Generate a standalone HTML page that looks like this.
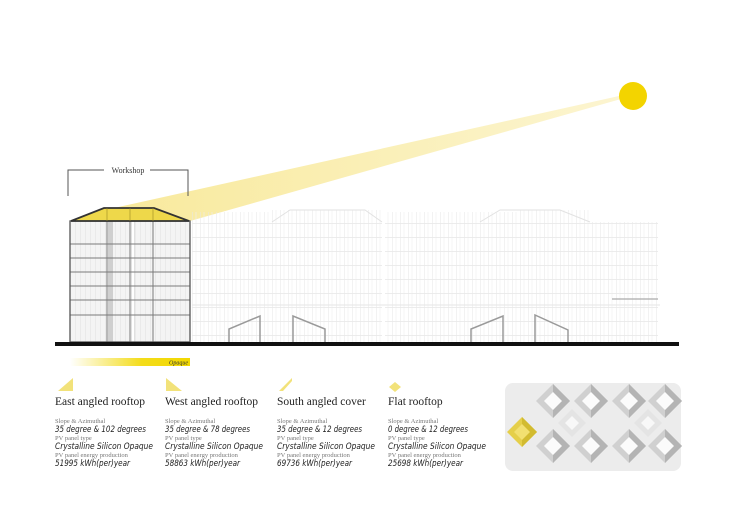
<!DOCTYPE html>
<html><head><meta charset="utf-8"><style>
html,body{margin:0;padding:0;background:#fff;}
svg{display:block;}
text{font-family:"Liberation Serif",serif;}
.t{font-size:11.5px;fill:#222;}
.s{font-size:6.5px;fill:#777;}
.b{font-size:9px;font-style:italic;fill:#222;font-family:"DejaVu Sans","Liberation Sans",sans-serif;}
</style></head><body>
<svg width="730" height="516" viewBox="0 0 730 516" xmlns="http://www.w3.org/2000/svg">
<defs>
<linearGradient id="beam" x1="0" y1="0" x2="1" y2="0">
<stop offset="0" stop-color="#f6e27a" stop-opacity="0.75"/>
<stop offset="1" stop-color="#f6e27a" stop-opacity="0.35"/>
</linearGradient>
<linearGradient id="op" x1="0" y1="0" x2="1" y2="0">
<stop offset="0" stop-color="#f2d800" stop-opacity="0"/>
<stop offset="0.6" stop-color="#f2d800" stop-opacity="0.9"/>
<stop offset="1" stop-color="#f2d800"/>
</linearGradient>
<pattern id="fac" width="8" height="14" patternUnits="userSpaceOnUse">
<line x1="0" y1="0" x2="0" y2="14" stroke="#e6e6e6" stroke-width="1"/>
<line x1="4" y1="0" x2="4" y2="14" stroke="#efefef" stroke-width="0.6"/>
<line x1="0" y1="13.5" x2="8" y2="13.5" stroke="#e8e8e8" stroke-width="0.8"/>
</pattern>
<pattern id="fac2" width="5" height="20" patternUnits="userSpaceOnUse">
<line x1="0" y1="0" x2="0" y2="20" stroke="#d6d6d6" stroke-width="0.7"/>
</pattern>
<g id="pd"><polygon points="0,-17 17,0 0,17 -17,0" fill="#d0d0d0"/><polygon points="0,-17 17,0 0,17" fill="#b4b4b4"/><polygon points="0,-9 9,0 0,9 -9,0" fill="#fbfbfb"/></g>
</defs>

<polygon points="105,210 190,221 621,99 619,96" fill="url(#beam)"/>
<circle cx="633" cy="96" r="14" fill="#f3d400"/>

<g>
<rect x="192" y="212" width="80" height="131" fill="url(#fac)"/>
<rect x="272" y="210" width="110" height="133" fill="url(#fac)"/>
<rect x="385" y="212" width="75" height="131" fill="url(#fac)"/>
<rect x="460" y="212" width="60" height="131" fill="url(#fac)"/>
<rect x="520" y="210" width="70" height="133" fill="url(#fac)"/>
<rect x="590" y="222" width="68" height="121" fill="url(#fac)"/>
<path d="M272,222 L290,210 L365,210 L382,222 M480,222 L500,210 L560,210 L590,222" stroke="#e2e2e2" fill="none"/>
<line x1="192" y1="305" x2="660" y2="305" stroke="#e6e6e6"/>
<line x1="612" y1="299" x2="658" y2="299" stroke="#aaa" stroke-width="1.2"/>
</g>

<g stroke="#9a9a9a" stroke-width="1.5" fill="none">
<polyline points="229,342 229,329 260,316 260,342"/>
<polyline points="293,342 293,316 325,329 325,342"/>
<polyline points="471,342 471,329 503,316 503,342"/>
<polyline points="535,342 535,315 568,330 568,342"/>
</g>

<g>
<rect x="70" y="221" width="120" height="121" fill="#f4f4f4"/>
<rect x="70" y="221" width="120" height="121" fill="url(#fac2)"/>
<rect x="108" y="221" width="5" height="121" fill="#cfcfcf"/>
<rect x="131" y="221" width="4" height="121" fill="#e0e0e0"/>
<rect x="132" y="221" width="2" height="121" fill="#fff"/>
<g stroke="#7a7a7a" stroke-width="1">
<line x1="70" y1="244" x2="190" y2="244"/>
<line x1="70" y1="258" x2="190" y2="258"/>
<line x1="70" y1="272" x2="190" y2="272"/>
<line x1="70" y1="286" x2="190" y2="286"/>
<line x1="70" y1="300" x2="190" y2="300"/>
<line x1="70" y1="315" x2="190" y2="315"/>
<line x1="107" y1="221" x2="107" y2="342"/>
<line x1="130" y1="221" x2="130" y2="342"/>
<line x1="153" y1="221" x2="153" y2="342"/>
</g>
<rect x="70" y="221" width="120" height="121" fill="none" stroke="#555" stroke-width="1.3"/>
<polygon points="71,221 104,208 154,208 189,221" fill="#eed84a" stroke="#333" stroke-width="1.8"/>
<g stroke="#9a8a20" stroke-width="0.6"><line x1="107" y1="208" x2="107" y2="221"/><line x1="130" y1="208" x2="130" y2="221"/><line x1="153" y1="208" x2="153" y2="221"/></g>
</g>

<polyline points="68,196 68,170 104,170" fill="none" stroke="#555" stroke-width="1"/>
<polyline points="150,170 188,170 188,196" fill="none" stroke="#555" stroke-width="1"/>
<text x="128" y="173" font-size="8" fill="#333" text-anchor="middle">Workshop</text>

<rect x="55" y="342" width="624" height="4" fill="#111"/>

<rect x="70" y="358" width="120" height="8" fill="url(#op)"/>
<text x="188" y="364.5" font-size="6" font-style="italic" fill="#333" text-anchor="end">Opaque</text>

<polygon points="58,391 73,378 73,391" fill="#f2e27a"/>
<polygon points="166,378 166,391 182,391" fill="#f2e27a"/>
<polygon points="279,391 292,378 292,381 283,391" fill="#f2e27a"/>
<polygon points="395,382 401,387 395,392 389,387" fill="#f2e27a"/>

<g>
<text class="t" x="55" y="405">East angled rooftop</text>
<text class="s" x="55" y="423">Slope &amp; Azimuthal</text>
<text class="b" x="55" y="432" textLength="91" lengthAdjust="spacingAndGlyphs">35 degree &amp; 102 degrees</text>
<text class="s" x="55" y="440">PV panel type</text>
<text class="b" x="55" y="449" textLength="98" lengthAdjust="spacingAndGlyphs">Crystalline Silicon Opaque</text>
<text class="s" x="55" y="457">PV panel energy production</text>
<text class="b" x="55" y="466" textLength="75" lengthAdjust="spacingAndGlyphs">51995 kWh(per)year</text>

<text class="t" x="165" y="405">West angled rooftop</text>
<text class="s" x="165" y="423">Slope &amp; Azimuthal</text>
<text class="b" x="165" y="432" textLength="85" lengthAdjust="spacingAndGlyphs">35 degree &amp; 78 degrees</text>
<text class="s" x="165" y="440">PV panel type</text>
<text class="b" x="165" y="449" textLength="98" lengthAdjust="spacingAndGlyphs">Crystalline Silicon Opaque</text>
<text class="s" x="165" y="457">PV panel energy production</text>
<text class="b" x="165" y="466" textLength="75" lengthAdjust="spacingAndGlyphs">58863 kWh(per)year</text>

<text class="t" x="277" y="405">South angled cover</text>
<text class="s" x="277" y="423">Slope &amp; Azimuthal</text>
<text class="b" x="277" y="432" textLength="85" lengthAdjust="spacingAndGlyphs">35 degree &amp; 12 degrees</text>
<text class="s" x="277" y="440">PV panel type</text>
<text class="b" x="277" y="449" textLength="98" lengthAdjust="spacingAndGlyphs">Crystalline Silicon Opaque</text>
<text class="s" x="277" y="457">PV panel energy production</text>
<text class="b" x="277" y="466" textLength="75" lengthAdjust="spacingAndGlyphs">69736 kWh(per)year</text>

<text class="t" x="388" y="405">Flat rooftop</text>
<text class="s" x="388" y="423">Slope &amp; Azimuthal</text>
<text class="b" x="388" y="432" textLength="80" lengthAdjust="spacingAndGlyphs">0 degree &amp; 12 degrees</text>
<text class="s" x="388" y="440">PV panel type</text>
<text class="b" x="388" y="449" textLength="98" lengthAdjust="spacingAndGlyphs">Crystalline Silicon Opaque</text>
<text class="s" x="388" y="457">PV panel energy production</text>
<text class="b" x="388" y="466" textLength="75" lengthAdjust="spacingAndGlyphs">25698 kWh(per)year</text>
</g>

<rect x="505" y="383" width="176" height="88" rx="8" fill="#ececec"/>
<use href="#pd" x="553" y="401"/>
<use href="#pd" x="591" y="401"/>
<use href="#pd" x="629" y="401"/>
<use href="#pd" x="665" y="401"/>
<g transform="translate(572,423)"><polygon points="0,-14 14,0 0,14 -14,0" fill="#e4e4e4"/><polygon points="0,-7 7,0 0,7 -7,0" fill="#f8f8f8"/></g>
<g transform="translate(648,423)"><polygon points="0,-14 14,0 0,14 -14,0" fill="#e4e4e4"/><polygon points="0,-7 7,0 0,7 -7,0" fill="#f8f8f8"/></g>
<g transform="translate(522,432)"><polygon points="0,-15 15,0 0,15 -15,0" fill="#e5cf4a"/><polygon points="0,-15 15,0 0,15" fill="#d2bb30"/><polygon points="0,-8 8,0 0,8 -8,0" fill="#f2e070"/></g>
<use href="#pd" x="553" y="446"/>
<use href="#pd" x="591" y="446"/>
<use href="#pd" x="629" y="446"/>
<use href="#pd" x="665" y="446"/>
</svg>
</body></html>
